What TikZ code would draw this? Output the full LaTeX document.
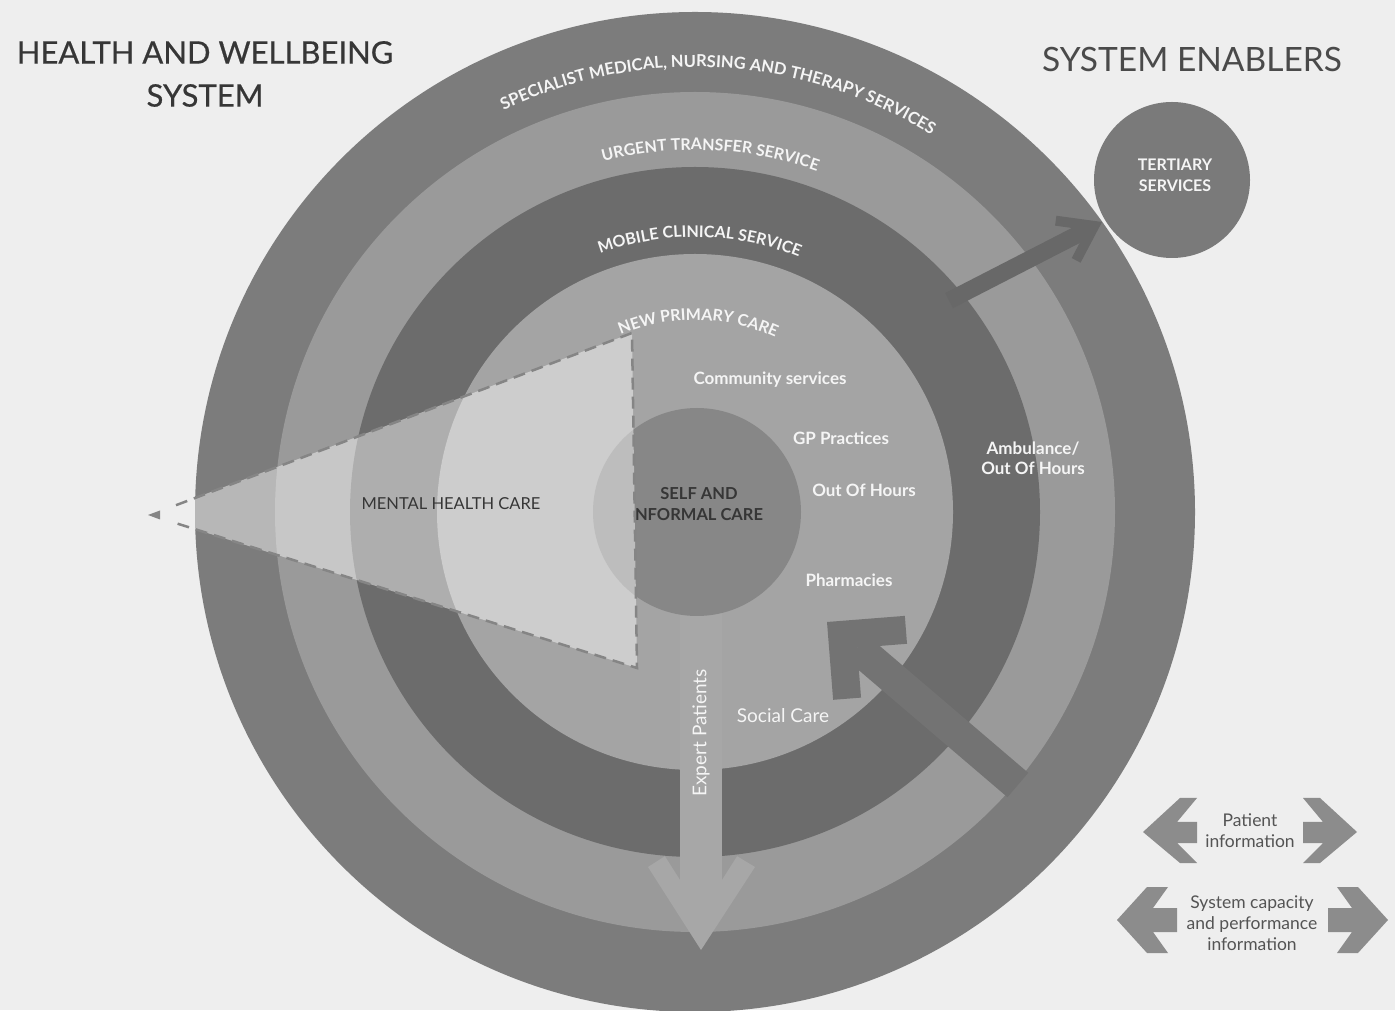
\documentclass[tikz,border=0pt]{standalone}
\usepackage{fontspec}
\setmainfont{Lato}
\newfontfamily\titlefont[FakeBold=0.6]{Lato}
\usetikzlibrary{decorations.text}
\definecolor{bg}{HTML}{EEEEEE}
\definecolor{ringA}{HTML}{7C7C7C}
\definecolor{ringB}{HTML}{9A9A9A}
\definecolor{ringC}{HTML}{6C6C6C}
\definecolor{ringD}{HTML}{A4A4A4}
\definecolor{selfc}{HTML}{878787}
\definecolor{tertc}{HTML}{7A7A7A}
\definecolor{arrdark}{HTML}{686868}
\definecolor{arrmid}{HTML}{737373}
\definecolor{arrlight}{HTML}{A7A7A7}
\definecolor{legendc}{HTML}{8C8C8C}
\definecolor{darktext}{HTML}{363636}
\definecolor{lighttext}{HTML}{F5F5F5}
\definecolor{dashc}{HTML}{858585}
\newcommand\ringfont{\bfseries\fontsize{16}{16}\selectfont\color{lighttext}}
\newcommand\ringfontL{\bfseries\fontsize{16.5}{16.5}\selectfont\color{lighttext}}
\begin{document}
\begin{tikzpicture}[x=1pt,y=1pt,
  lbl/.style={text=lighttext, font=\bfseries\fontsize{17}{20}\selectfont, inner sep=0pt, align=center},
  lblreg/.style={text=lighttext, font=\fontsize{19}{22}\selectfont, inner sep=0pt},
  darklbl/.style={text=darktext, inner sep=0pt, align=center},
  legtext/.style={text=darktext!85, font=\fontsize{17.5}{21}\selectfont, inner sep=0pt, align=center},
  legarrow/.style={fill=legendc},
  mhdash/.style={draw=dashc, line width=2.5pt, dash pattern=on 12pt off 7pt},
  ringtext/.style={decorate, decoration={text along path, text align=center, text={#1}}}
]
\useasboundingbox (0,0) rectangle (1395,1010);
\fill[bg] (0,0) rectangle (1395,1010);
\clip (0,0) rectangle (1395,1010);
\coordinate (C) at (695,498);
% rings
\fill[ringA] (C) circle[radius=500];
\fill[ringB] (C) circle[radius=420];
\fill[ringC] (C) circle[radius=345];
\fill[ringD] (C) circle[radius=258];
% expert patients arrow
\fill[arrlight] (680,440) rectangle (722,95);
\fill[arrlight] (701,60) -- (648,143) -- (664.9,153.8) -- (701,97) -- (737.1,153.8) -- (755,143) -- cycle;
% self care circle
\node[circle, fill=selfc, minimum size=208pt, inner sep=0pt] (self) at (697,498) {};
% mental health wedge
\begin{scope}
  \clip (C) circle[radius=500];
  \fill[white, opacity=0.45] (150,495) -- (632,677) -- (637,342) -- cycle;
\end{scope}
\coordinate (wA) at (176,504.8);
\coordinate (wB) at (632,677);
\coordinate (wC) at (637,342);
\coordinate (wD) at (176,486.8);
\draw[mhdash] (wA) -- (wB) -- (wC) -- (wD);
\fill[dashc] (148,495) -- (160,499.5) -- (160,490.5) -- cycle;
% arrow to tertiary services
\begin{scope}[shift={(1102,788)}, rotate=27.2]
  \fill[arrdark] (-172,-8.5) rectangle (-17.4,8.5);
  \fill[arrdark] (0,0) -- (-37.7,26.4) -- (-43.4,18.2) -- (-17.4,0) -- (-43.4,-18.2) -- (-37.7,-26.4) -- cycle;
\end{scope}
% diagonal arrow
\begin{scope}[shift={(827,388)}, rotate=139.5]
  \fill[arrmid] (-251,-16) rectangle (-39.6,16);
  \fill[arrmid] (0,0) -- (-55.2,55.2) -- (-75,35.4) -- (-39.6,0) -- (-75,-35.4) -- (-55.2,-55.2) -- cycle;
\end{scope}
% tertiary services
\node[circle, fill=tertc, minimum size=156pt, inner sep=0pt] (tert) at (1172,830) {};
\node[lbl, font=\bfseries\fontsize{16}{21}\selectfont] (tertlbl) at (1175,835) {TERTIARY\\SERVICES};
% curved ring labels
\begin{scope}[shift={(695,498)}]
  \path[ringtext={|\ringfontL|SPECIALIST MEDICAL, NURSING AND THERAPY SERVICES}] (136.7:445) arc[start angle=136.7, end angle=36.7, radius=445];
  \path[ringtext={|\ringfont|URGENT TRANSFER SERVICE}] (137.5:362) arc[start angle=137.5, end angle=37.5, radius=362];
  \path[ringtext={|\ringfont|MOBILE CLINICAL SERVICE}] (139:275) arc[start angle=139, end angle=39, radius=275];
  \path[ringtext={|\ringfont|NEW PRIMARY CARE}] (139:192) arc[start angle=139, end angle=39, radius=192];
\end{scope}
% inner labels
\node[lbl] (comm) at (770,630) {Community services};
\node[lbl] (gp) at (841,572) {GP Practices};
\node[lbl] (ooh) at (864,520) {Out Of Hours};
\node[lbl] (pharm) at (849,430) {Pharmacies};
\node[lblreg] (social) at (783,294) {Social Care};
\node[lbl] (amb) at (1033,552) {Ambulance/\\Out Of Hours};
\node[lblreg, rotate=90] (expert) at (701,277) {Expert Patients};
\node[darklbl, font=\bfseries\fontsize{16.5}{21}\selectfont] (selflbl) at (699,506) {SELF AND\\NFORMAL CARE};
\node[darklbl, font=\fontsize{16.5}{20}\selectfont] (mental) at (451,506) {MENTAL HEALTH CARE};
% titles
\node[darklbl, font=\titlefont\fontsize{31}{43}\selectfont] (title) at (205,936) {HEALTH AND WELLBEING\\SYSTEM};
\node[darklbl, font=\fontsize{33.5}{36}\selectfont, text=darktext!90] (enablers) at (1192,950) {SYSTEM ENABLERS};
% legend
\fill[legarrow] (1143,178) -- (1180,212) -- (1197,212) -- (1177,188) -- (1197,188) -- (1197,167) -- (1177,167) -- (1197,147) -- (1180,147) -- cycle;
\fill[legarrow] (1357,178) -- (1320,212) -- (1303,212) -- (1323,188) -- (1303,188) -- (1303,167) -- (1323,167) -- (1303,147) -- (1320,147) -- cycle;
\node[legtext] (patinfo) at (1250,179) {Patient\\information};
\fill[legarrow] (1117,90) -- (1147,123) -- (1168,123) -- (1153,102) -- (1177,102) -- (1177,78) -- (1153,78) -- (1168,57) -- (1147,57) -- cycle;
\fill[legarrow] (1388,90) -- (1358,123) -- (1337,123) -- (1352,102) -- (1328,102) -- (1328,78) -- (1352,78) -- (1337,57) -- (1358,57) -- cycle;
\node[legtext] (sysinfo) at (1252,87) {System capacity\\and performance\\information};
\end{tikzpicture}
\end{document}
